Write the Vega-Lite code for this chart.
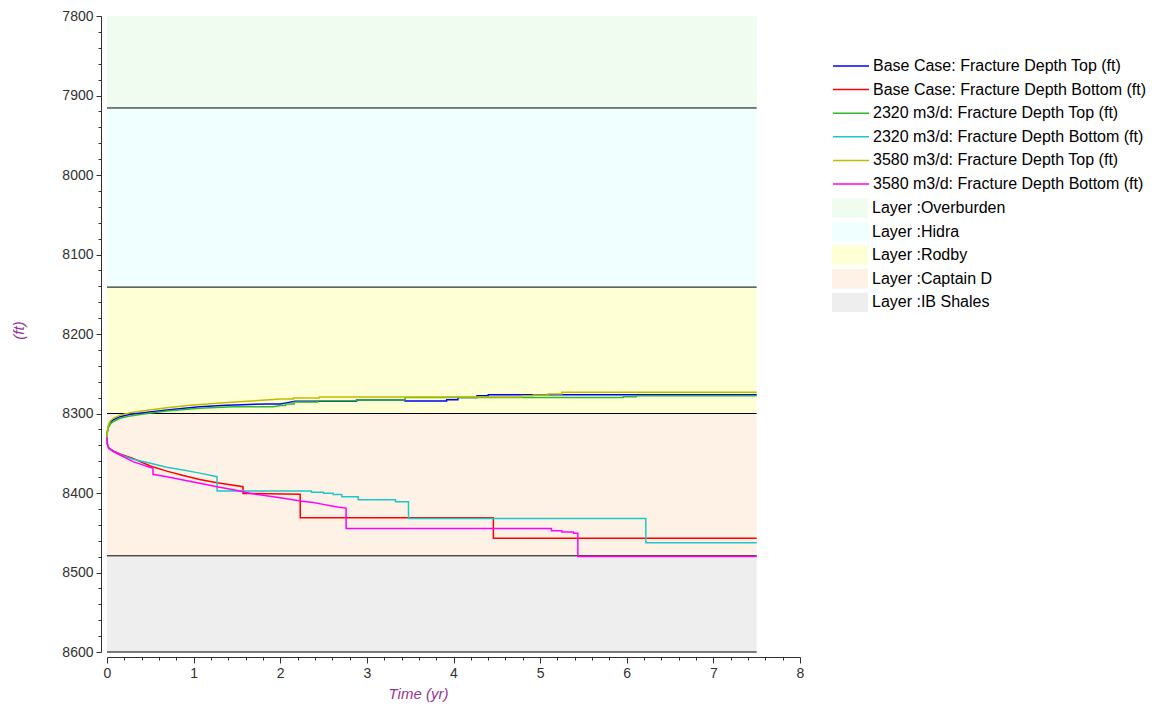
{
  "$schema": "https://vega.github.io/schema/vega-lite/v6.json",
  "width": 693,
  "height": 636,
  "autosize": {"type": "none"},
  "padding": {"left": 107, "top": 16, "right": 357, "bottom": 55},
  "background": "white",
  "config": {"font": "Liberation Sans", "view": {"stroke": null}},
  "datasets": {
    "layers": [
      {"layer": "Layer :Overburden", "top": 7800, "bottom": 7915.7, "t0": 0, "t1": 7.5},
      {"layer": "Layer :Hidra", "top": 7915.7, "bottom": 8141, "t0": 0, "t1": 7.5},
      {"layer": "Layer :Rodby", "top": 8141, "bottom": 8300, "t0": 0, "t1": 7.5},
      {"layer": "Layer :Captain D", "top": 8300, "bottom": 8479, "t0": 0, "t1": 7.5},
      {"layer": "Layer :IB Shales", "top": 8479, "bottom": 8600, "t0": 0, "t1": 7.5}
    ],
    "lines": [
      {"s": "Base Case: Fracture Depth Top (ft)", "t": 0, "d": 8330},
      {"s": "Base Case: Fracture Depth Top (ft)", "t": 0.004, "d": 8323},
      {"s": "Base Case: Fracture Depth Top (ft)", "t": 0.015, "d": 8316},
      {"s": "Base Case: Fracture Depth Top (ft)", "t": 0.04, "d": 8311},
      {"s": "Base Case: Fracture Depth Top (ft)", "t": 0.073, "d": 8308},
      {"s": "Base Case: Fracture Depth Top (ft)", "t": 0.15, "d": 8304},
      {"s": "Base Case: Fracture Depth Top (ft)", "t": 0.27, "d": 8301},
      {"s": "Base Case: Fracture Depth Top (ft)", "t": 0.42, "d": 8299},
      {"s": "Base Case: Fracture Depth Top (ft)", "t": 0.69, "d": 8295.6},
      {"s": "Base Case: Fracture Depth Top (ft)", "t": 1.07, "d": 8291.4},
      {"s": "Base Case: Fracture Depth Top (ft)", "t": 1.38, "d": 8289.5},
      {"s": "Base Case: Fracture Depth Top (ft)", "t": 1.84, "d": 8288},
      {"s": "Base Case: Fracture Depth Top (ft)", "t": 2.0, "d": 8288},
      {"s": "Base Case: Fracture Depth Top (ft)", "t": 2.1, "d": 8286},
      {"s": "Base Case: Fracture Depth Top (ft)", "t": 2.17, "d": 8284.7},
      {"s": "Base Case: Fracture Depth Top (ft)", "t": 2.88, "d": 8284.7},
      {"s": "Base Case: Fracture Depth Top (ft)", "t": 2.881, "d": 8283},
      {"s": "Base Case: Fracture Depth Top (ft)", "t": 3.44, "d": 8283},
      {"s": "Base Case: Fracture Depth Top (ft)", "t": 3.441, "d": 8284.3},
      {"s": "Base Case: Fracture Depth Top (ft)", "t": 3.92, "d": 8284.3},
      {"s": "Base Case: Fracture Depth Top (ft)", "t": 3.921, "d": 8282.6},
      {"s": "Base Case: Fracture Depth Top (ft)", "t": 4.05, "d": 8282.6},
      {"s": "Base Case: Fracture Depth Top (ft)", "t": 4.051, "d": 8280},
      {"s": "Base Case: Fracture Depth Top (ft)", "t": 4.27, "d": 8280},
      {"s": "Base Case: Fracture Depth Top (ft)", "t": 4.271, "d": 8277.6},
      {"s": "Base Case: Fracture Depth Top (ft)", "t": 4.4, "d": 8277.6},
      {"s": "Base Case: Fracture Depth Top (ft)", "t": 4.401, "d": 8276.3},
      {"s": "Base Case: Fracture Depth Top (ft)", "t": 7.5, "d": 8276.3},

      {"s": "Base Case: Fracture Depth Bottom (ft)", "t": 0, "d": 8330},
      {"s": "Base Case: Fracture Depth Bottom (ft)", "t": 0.004, "d": 8338},
      {"s": "Base Case: Fracture Depth Bottom (ft)", "t": 0.02, "d": 8343},
      {"s": "Base Case: Fracture Depth Bottom (ft)", "t": 0.07, "d": 8347},
      {"s": "Base Case: Fracture Depth Bottom (ft)", "t": 0.15, "d": 8351},
      {"s": "Base Case: Fracture Depth Bottom (ft)", "t": 0.3, "d": 8356.4},
      {"s": "Base Case: Fracture Depth Bottom (ft)", "t": 0.5, "d": 8366},
      {"s": "Base Case: Fracture Depth Bottom (ft)", "t": 0.69, "d": 8372.5},
      {"s": "Base Case: Fracture Depth Bottom (ft)", "t": 0.88, "d": 8378},
      {"s": "Base Case: Fracture Depth Bottom (ft)", "t": 1.07, "d": 8383},
      {"s": "Base Case: Fracture Depth Bottom (ft)", "t": 1.27, "d": 8387},
      {"s": "Base Case: Fracture Depth Bottom (ft)", "t": 1.57, "d": 8392},
      {"s": "Base Case: Fracture Depth Bottom (ft)", "t": 1.571, "d": 8400.5},
      {"s": "Base Case: Fracture Depth Bottom (ft)", "t": 2.23, "d": 8401.7},
      {"s": "Base Case: Fracture Depth Bottom (ft)", "t": 2.231, "d": 8431},
      {"s": "Base Case: Fracture Depth Bottom (ft)", "t": 4.46, "d": 8431},
      {"s": "Base Case: Fracture Depth Bottom (ft)", "t": 4.461, "d": 8457},
      {"s": "Base Case: Fracture Depth Bottom (ft)", "t": 7.5, "d": 8457},

      {"s": "2320 m3/d: Fracture Depth Top (ft)", "t": 0, "d": 8330},
      {"s": "2320 m3/d: Fracture Depth Top (ft)", "t": 0.004, "d": 8324},
      {"s": "2320 m3/d: Fracture Depth Top (ft)", "t": 0.015, "d": 8318},
      {"s": "2320 m3/d: Fracture Depth Top (ft)", "t": 0.04, "d": 8313},
      {"s": "2320 m3/d: Fracture Depth Top (ft)", "t": 0.073, "d": 8310},
      {"s": "2320 m3/d: Fracture Depth Top (ft)", "t": 0.15, "d": 8306},
      {"s": "2320 m3/d: Fracture Depth Top (ft)", "t": 0.27, "d": 8303},
      {"s": "2320 m3/d: Fracture Depth Top (ft)", "t": 0.42, "d": 8300.5},
      {"s": "2320 m3/d: Fracture Depth Top (ft)", "t": 0.69, "d": 8297},
      {"s": "2320 m3/d: Fracture Depth Top (ft)", "t": 1.07, "d": 8293.5},
      {"s": "2320 m3/d: Fracture Depth Top (ft)", "t": 1.46, "d": 8291.4},
      {"s": "2320 m3/d: Fracture Depth Top (ft)", "t": 1.92, "d": 8291.4},
      {"s": "2320 m3/d: Fracture Depth Top (ft)", "t": 2.0, "d": 8290},
      {"s": "2320 m3/d: Fracture Depth Top (ft)", "t": 2.06, "d": 8290},
      {"s": "2320 m3/d: Fracture Depth Top (ft)", "t": 2.061, "d": 8288},
      {"s": "2320 m3/d: Fracture Depth Top (ft)", "t": 2.16, "d": 8288},
      {"s": "2320 m3/d: Fracture Depth Top (ft)", "t": 2.161, "d": 8285.5},
      {"s": "2320 m3/d: Fracture Depth Top (ft)", "t": 2.43, "d": 8285.5},
      {"s": "2320 m3/d: Fracture Depth Top (ft)", "t": 2.431, "d": 8284},
      {"s": "2320 m3/d: Fracture Depth Top (ft)", "t": 2.88, "d": 8284},
      {"s": "2320 m3/d: Fracture Depth Top (ft)", "t": 2.881, "d": 8283},
      {"s": "2320 m3/d: Fracture Depth Top (ft)", "t": 3.44, "d": 8283},
      {"s": "2320 m3/d: Fracture Depth Top (ft)", "t": 3.441, "d": 8280},
      {"s": "2320 m3/d: Fracture Depth Top (ft)", "t": 5.96, "d": 8280},
      {"s": "2320 m3/d: Fracture Depth Top (ft)", "t": 5.961, "d": 8278.8},
      {"s": "2320 m3/d: Fracture Depth Top (ft)", "t": 6.11, "d": 8278.8},
      {"s": "2320 m3/d: Fracture Depth Top (ft)", "t": 6.111, "d": 8277.6},
      {"s": "2320 m3/d: Fracture Depth Top (ft)", "t": 7.5, "d": 8277.6},

      {"s": "2320 m3/d: Fracture Depth Bottom (ft)", "t": 0, "d": 8330},
      {"s": "2320 m3/d: Fracture Depth Bottom (ft)", "t": 0.004, "d": 8338},
      {"s": "2320 m3/d: Fracture Depth Bottom (ft)", "t": 0.02, "d": 8343},
      {"s": "2320 m3/d: Fracture Depth Bottom (ft)", "t": 0.073, "d": 8348},
      {"s": "2320 m3/d: Fracture Depth Bottom (ft)", "t": 0.19, "d": 8353.5},
      {"s": "2320 m3/d: Fracture Depth Bottom (ft)", "t": 0.3, "d": 8357.6},
      {"s": "2320 m3/d: Fracture Depth Bottom (ft)", "t": 0.5, "d": 8362.7},
      {"s": "2320 m3/d: Fracture Depth Bottom (ft)", "t": 0.69, "d": 8367.7},
      {"s": "2320 m3/d: Fracture Depth Bottom (ft)", "t": 0.88, "d": 8371},
      {"s": "2320 m3/d: Fracture Depth Bottom (ft)", "t": 1.07, "d": 8375},
      {"s": "2320 m3/d: Fracture Depth Bottom (ft)", "t": 1.27, "d": 8379.5},
      {"s": "2320 m3/d: Fracture Depth Bottom (ft)", "t": 1.271, "d": 8397.5},
      {"s": "2320 m3/d: Fracture Depth Bottom (ft)", "t": 2.36, "d": 8397.5},
      {"s": "2320 m3/d: Fracture Depth Bottom (ft)", "t": 2.361, "d": 8399},
      {"s": "2320 m3/d: Fracture Depth Bottom (ft)", "t": 2.5, "d": 8399},
      {"s": "2320 m3/d: Fracture Depth Bottom (ft)", "t": 2.501, "d": 8400.4},
      {"s": "2320 m3/d: Fracture Depth Bottom (ft)", "t": 2.61, "d": 8400.4},
      {"s": "2320 m3/d: Fracture Depth Bottom (ft)", "t": 2.611, "d": 8402},
      {"s": "2320 m3/d: Fracture Depth Bottom (ft)", "t": 2.71, "d": 8402},
      {"s": "2320 m3/d: Fracture Depth Bottom (ft)", "t": 2.711, "d": 8404.6},
      {"s": "2320 m3/d: Fracture Depth Bottom (ft)", "t": 2.9, "d": 8404.6},
      {"s": "2320 m3/d: Fracture Depth Bottom (ft)", "t": 2.901, "d": 8408.4},
      {"s": "2320 m3/d: Fracture Depth Bottom (ft)", "t": 3.33, "d": 8408.4},
      {"s": "2320 m3/d: Fracture Depth Bottom (ft)", "t": 3.331, "d": 8411},
      {"s": "2320 m3/d: Fracture Depth Bottom (ft)", "t": 3.48, "d": 8411},
      {"s": "2320 m3/d: Fracture Depth Bottom (ft)", "t": 3.481, "d": 8432},
      {"s": "2320 m3/d: Fracture Depth Bottom (ft)", "t": 6.22, "d": 8432},
      {"s": "2320 m3/d: Fracture Depth Bottom (ft)", "t": 6.221, "d": 8462.5},
      {"s": "2320 m3/d: Fracture Depth Bottom (ft)", "t": 7.5, "d": 8462.5},

      {"s": "3580 m3/d: Fracture Depth Top (ft)", "t": 0, "d": 8330},
      {"s": "3580 m3/d: Fracture Depth Top (ft)", "t": 0.004, "d": 8322},
      {"s": "3580 m3/d: Fracture Depth Top (ft)", "t": 0.015, "d": 8314.5},
      {"s": "3580 m3/d: Fracture Depth Top (ft)", "t": 0.04, "d": 8309},
      {"s": "3580 m3/d: Fracture Depth Top (ft)", "t": 0.073, "d": 8306},
      {"s": "3580 m3/d: Fracture Depth Top (ft)", "t": 0.15, "d": 8302},
      {"s": "3580 m3/d: Fracture Depth Top (ft)", "t": 0.27, "d": 8299},
      {"s": "3580 m3/d: Fracture Depth Top (ft)", "t": 0.42, "d": 8296.5},
      {"s": "3580 m3/d: Fracture Depth Top (ft)", "t": 0.69, "d": 8292.7},
      {"s": "3580 m3/d: Fracture Depth Top (ft)", "t": 0.96, "d": 8289.5},
      {"s": "3580 m3/d: Fracture Depth Top (ft)", "t": 1.27, "d": 8287},
      {"s": "3580 m3/d: Fracture Depth Top (ft)", "t": 1.57, "d": 8285},
      {"s": "3580 m3/d: Fracture Depth Top (ft)", "t": 1.84, "d": 8283},
      {"s": "3580 m3/d: Fracture Depth Top (ft)", "t": 2.0, "d": 8281.8},
      {"s": "3580 m3/d: Fracture Depth Top (ft)", "t": 2.15, "d": 8281.8},
      {"s": "3580 m3/d: Fracture Depth Top (ft)", "t": 2.151, "d": 8280.5},
      {"s": "3580 m3/d: Fracture Depth Top (ft)", "t": 2.45, "d": 8280.5},
      {"s": "3580 m3/d: Fracture Depth Top (ft)", "t": 2.451, "d": 8279.2},
      {"s": "3580 m3/d: Fracture Depth Top (ft)", "t": 4.79, "d": 8279.2},
      {"s": "3580 m3/d: Fracture Depth Top (ft)", "t": 4.791, "d": 8277.6},
      {"s": "3580 m3/d: Fracture Depth Top (ft)", "t": 4.92, "d": 8277.6},
      {"s": "3580 m3/d: Fracture Depth Top (ft)", "t": 4.921, "d": 8276.7},
      {"s": "3580 m3/d: Fracture Depth Top (ft)", "t": 5.09, "d": 8276.7},
      {"s": "3580 m3/d: Fracture Depth Top (ft)", "t": 5.091, "d": 8275.5},
      {"s": "3580 m3/d: Fracture Depth Top (ft)", "t": 5.25, "d": 8275.5},
      {"s": "3580 m3/d: Fracture Depth Top (ft)", "t": 5.251, "d": 8273.4},
      {"s": "3580 m3/d: Fracture Depth Top (ft)", "t": 7.5, "d": 8273.4},

      {"s": "3580 m3/d: Fracture Depth Bottom (ft)", "t": 0, "d": 8330},
      {"s": "3580 m3/d: Fracture Depth Bottom (ft)", "t": 0.004, "d": 8339},
      {"s": "3580 m3/d: Fracture Depth Bottom (ft)", "t": 0.02, "d": 8344},
      {"s": "3580 m3/d: Fracture Depth Bottom (ft)", "t": 0.11, "d": 8350},
      {"s": "3580 m3/d: Fracture Depth Bottom (ft)", "t": 0.3, "d": 8360.6},
      {"s": "3580 m3/d: Fracture Depth Bottom (ft)", "t": 0.53, "d": 8369},
      {"s": "3580 m3/d: Fracture Depth Bottom (ft)", "t": 0.531, "d": 8376.5},
      {"s": "3580 m3/d: Fracture Depth Bottom (ft)", "t": 0.69, "d": 8379.5},
      {"s": "3580 m3/d: Fracture Depth Bottom (ft)", "t": 0.88, "d": 8383.6},
      {"s": "3580 m3/d: Fracture Depth Bottom (ft)", "t": 1.07, "d": 8387.8},
      {"s": "3580 m3/d: Fracture Depth Bottom (ft)", "t": 1.27, "d": 8392},
      {"s": "3580 m3/d: Fracture Depth Bottom (ft)", "t": 1.46, "d": 8396},
      {"s": "3580 m3/d: Fracture Depth Bottom (ft)", "t": 1.65, "d": 8400.4},
      {"s": "3580 m3/d: Fracture Depth Bottom (ft)", "t": 1.84, "d": 8403.4},
      {"s": "3580 m3/d: Fracture Depth Bottom (ft)", "t": 2.04, "d": 8406.7},
      {"s": "3580 m3/d: Fracture Depth Bottom (ft)", "t": 2.23, "d": 8410},
      {"s": "3580 m3/d: Fracture Depth Bottom (ft)", "t": 2.38, "d": 8412},
      {"s": "3580 m3/d: Fracture Depth Bottom (ft)", "t": 2.48, "d": 8414},
      {"s": "3580 m3/d: Fracture Depth Bottom (ft)", "t": 2.58, "d": 8416},
      {"s": "3580 m3/d: Fracture Depth Bottom (ft)", "t": 2.66, "d": 8417.6},
      {"s": "3580 m3/d: Fracture Depth Bottom (ft)", "t": 2.76, "d": 8419},
      {"s": "3580 m3/d: Fracture Depth Bottom (ft)", "t": 2.761, "d": 8444.5},
      {"s": "3580 m3/d: Fracture Depth Bottom (ft)", "t": 5.13, "d": 8444.5},
      {"s": "3580 m3/d: Fracture Depth Bottom (ft)", "t": 5.131, "d": 8447.4},
      {"s": "3580 m3/d: Fracture Depth Bottom (ft)", "t": 5.25, "d": 8447.4},
      {"s": "3580 m3/d: Fracture Depth Bottom (ft)", "t": 5.251, "d": 8449},
      {"s": "3580 m3/d: Fracture Depth Bottom (ft)", "t": 5.385, "d": 8449},
      {"s": "3580 m3/d: Fracture Depth Bottom (ft)", "t": 5.386, "d": 8450.7},
      {"s": "3580 m3/d: Fracture Depth Bottom (ft)", "t": 5.435, "d": 8450.7},
      {"s": "3580 m3/d: Fracture Depth Bottom (ft)", "t": 5.436, "d": 8480},
      {"s": "3580 m3/d: Fracture Depth Bottom (ft)", "t": 7.5, "d": 8480}
    ]
  },
  "layer": [
    {
      "data": {"name": "layers"},
      "mark": {"type": "rect"},
      "encoding": {
        "x": {
          "field": "t0", "type": "quantitative",
          "scale": {"domain": [0, 8], "nice": false, "zero": false},
          "axis": {
            "title": "Time (yr)",
            "values": [0,0.2,0.4,0.6,0.8,1,1.2,1.4,1.6,1.8,2,2.2,2.4,2.6,2.8,3,3.2,3.4,3.6,3.8,4,4.2,4.4,4.6,4.8,5,5.2,5.4,5.6,5.8,6,6.2,6.4,6.6,6.8,7,7.2,7.4,7.6,7.8,8],
            "tickCount": 200,
            "labelExpr": "abs(datum.value - round(datum.value)) < 0.001 ? format(datum.value, 'd') : ''",
            "tickSize": {"condition": {"test": "abs(datum.value - round(datum.value)) < 0.001", "value": 6}, "value": 3},
            "offset": 5,
            "grid": false,
            "labelFontSize": 14,
            "labelColor": "#303030",
            "labelPadding": 3,
            "labelFlush": false,
            "labelOverlap": false,
            "domainColor": "#303030",
            "tickColor": "#303030",
            "titleFontStyle": "italic",
            "titleFontWeight": "normal",
            "titleFontSize": 15,
            "titleColor": "#993399",
            "titleX": 311,
            "titleY": 36,
            "titleAlign": "center",
            "titleBaseline": "middle"
          }
        },
        "x2": {"field": "t1"},
        "y": {
          "field": "top", "type": "quantitative",
          "scale": {"domain": [7800, 8600], "reverse": true, "nice": false, "zero": false},
          "axis": {
            "title": "(ft)",
            "values": [7800,7820,7840,7860,7880,7900,7920,7940,7960,7980,8000,8020,8040,8060,8080,8100,8120,8140,8160,8180,8200,8220,8240,8260,8280,8300,8320,8340,8360,8380,8400,8420,8440,8460,8480,8500,8520,8540,8560,8580,8600],
            "tickCount": 200,
            "labelExpr": "datum.value % 100 === 0 ? format(datum.value, 'd') : ''",
            "tickSize": {"condition": {"test": "datum.value % 100 === 0", "value": 5}, "value": 3},
            "offset": 6,
            "grid": false,
            "labelFontSize": 14,
            "labelColor": "#303030",
            "labelPadding": 3,
            "labelFlush": false,
            "labelOverlap": false,
            "domainColor": "#303030",
            "tickColor": "#303030",
            "titleFontStyle": "italic",
            "titleFontWeight": "normal",
            "titleFontSize": 15,
            "titleColor": "#993399",
            "titleX": -83,
            "titleY": 314,
            "titleAngle": -90,
            "titleAlign": "center",
            "titleBaseline": "middle"
          }
        },
        "y2": {"field": "bottom"},
        "fill": {
          "field": "layer", "type": "nominal",
          "scale": {
            "domain": ["Layer :Overburden", "Layer :Hidra", "Layer :Rodby", "Layer :Captain D", "Layer :IB Shales"],
            "range": ["#EFFCEF", "#F0FFFF", "#FFFFD6", "#FEF2E6", "#EEEEEE"]
          },
          "legend": {
            "orient": "none",
            "legendX": 725,
            "legendY": 182,
            "title": null,
            "symbolType": "M-1,-0.55L1,-0.55L1,0.55L-1,0.55Z",
            "symbolSize": 1296,
            "symbolStrokeWidth": 0,
            "symbolOpacity": 1,
            "clipHeight": 20,
            "rowPadding": 3.6,
            "labelFontSize": 16,
            "labelColor": "#000000",
            "labelOffset": 4,
            "labelLimit": 400
          }
        }
      }
    },
    {
      "data": {"name": "layers"},
      "mark": {"type": "rule", "color": "#000000", "strokeWidth": 1},
      "encoding": {
        "x": {"field": "t0", "type": "quantitative"},
        "x2": {"field": "t1"},
        "y": {"field": "bottom", "type": "quantitative"}
      }
    },
    {
      "data": {"name": "lines"},
      "mark": {"type": "line", "strokeWidth": 1.5},
      "encoding": {
        "x": {"field": "t", "type": "quantitative"},
        "y": {"field": "d", "type": "quantitative"},
        "stroke": {
          "field": "s", "type": "nominal",
          "scale": {
            "domain": ["Base Case: Fracture Depth Top (ft)", "Base Case: Fracture Depth Bottom (ft)", "2320 m3/d: Fracture Depth Top (ft)", "2320 m3/d: Fracture Depth Bottom (ft)", "3580 m3/d: Fracture Depth Top (ft)", "3580 m3/d: Fracture Depth Bottom (ft)"],
            "range": ["#0000FF", "#FF0000", "#2DB82D", "#1EC8C8", "#C0BC00", "#FF00FF"]
          },
          "legend": {
            "orient": "none",
            "legendX": 725,
            "legendY": 40,
            "title": null,
            "symbolType": "stroke",
            "symbolSize": 1296,
            "symbolStrokeWidth": 1.5,
            "clipHeight": 20,
            "rowPadding": 3.6,
            "labelFontSize": 16,
            "labelColor": "#000000",
            "labelOffset": 3,
            "labelLimit": 400
          }
        }
      }
    }
  ]
}
